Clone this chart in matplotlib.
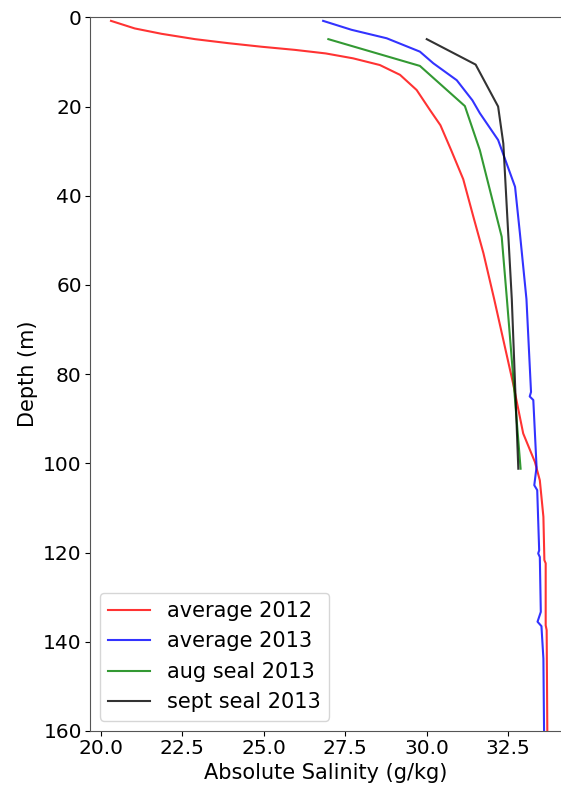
import matplotlib
matplotlib.use("Agg")
import matplotlib.pyplot as plt

# salinity profiles: (absolute salinity g/kg, depth m)
sal_2012 = [20.31, 21.04, 21.86, 22.89, 23.91, 24.93, 25.95, 26.90, 27.74, 28.56, 29.18,
            29.69, 30.10, 30.42, 30.75, 31.12, 31.43, 31.74, 32.07, 32.65, 32.96, 33.32,
            33.47, 33.58, 33.61, 33.65, 33.65, 33.68, 33.70]
dep_2012 = [0.8, 2.5, 3.7, 4.9, 5.8, 6.6, 7.3, 8.1, 9.2, 10.7, 12.9,
            16.3, 20.8, 24.2, 29.8, 36.3, 44.7, 52.9, 63.2, 82.1, 93.3, 99.7,
            103.8, 112.0, 121.7, 122.4, 136.3, 137.4, 160.0]

sal_2013 = [26.82, 27.69, 28.77, 29.79, 30.20, 30.92, 31.40, 31.63, 32.19, 32.71, 32.86,
            33.06, 33.20, 33.16, 33.27, 33.37, 33.30, 33.39, 33.45, 33.42, 33.47, 33.50,
            33.40, 33.52, 33.58, 33.60]
dep_2013 = [0.8, 2.8, 4.7, 7.7, 10.3, 14.1, 18.6, 21.5, 27.5, 38.0, 48.5,
            63.2, 84.0, 85.0, 85.8, 100.8, 104.9, 106.0, 119.5, 120.2, 121.0, 133.3,
            135.5, 136.5, 143.8, 160.0]

sal_aug = [26.98, 29.79, 31.17, 31.63, 32.30, 32.46, 32.71, 32.88]
dep_aug = [4.9, 10.9, 19.9, 29.8, 49.2, 63.2, 85.8, 101.2]

sal_sept = [30.00, 31.50, 32.19, 32.35, 32.50, 32.61, 32.81]
dep_sept = [4.9, 10.6, 20.0, 28.3, 48.5, 63.2, 101.2]

fig = plt.figure(figsize=(5.61, 7.90), dpi=100)
ax = fig.add_axes([89.5 / 561, 59 / 790, 1 - 89.5 / 561, 713.7 / 790])

ax.plot(sal_2012, dep_2012, color="red", alpha=0.8, lw=1.5, label="average 2012")
ax.plot(sal_2013, dep_2013, color="blue", alpha=0.8, lw=1.5, label="average 2013")
ax.plot(sal_aug, dep_aug, color="green", alpha=0.8, lw=1.5, label="aug seal 2013")
ax.plot(sal_sept, dep_sept, color="black", alpha=0.8, lw=1.5, label="sept seal 2013")

ax.set_xlim(19.65, 34.12)
ax.set_ylim(160, 0)
ax.set_xticks([20.0, 22.5, 25.0, 27.5, 30.0, 32.5])
ax.set_xticklabels(["20.0", "22.5", "25.0", "27.5", "30.0", "32.5"])
ax.set_yticks(range(0, 161, 20))
ax.tick_params(labelsize=14.5, pad=2)
ax.spines["right"].set_visible(False)
for s in ["left", "top", "bottom"]:
    ax.spines[s].set_color("#555555")

ax.set_xlabel("Absolute Salinity (g/kg)", fontsize=15, labelpad=4)
ax.set_ylabel("Depth (m)", fontsize=15)
ax.legend(loc="lower left", fontsize=15)

fig.savefig("out.png", dpi=100)
